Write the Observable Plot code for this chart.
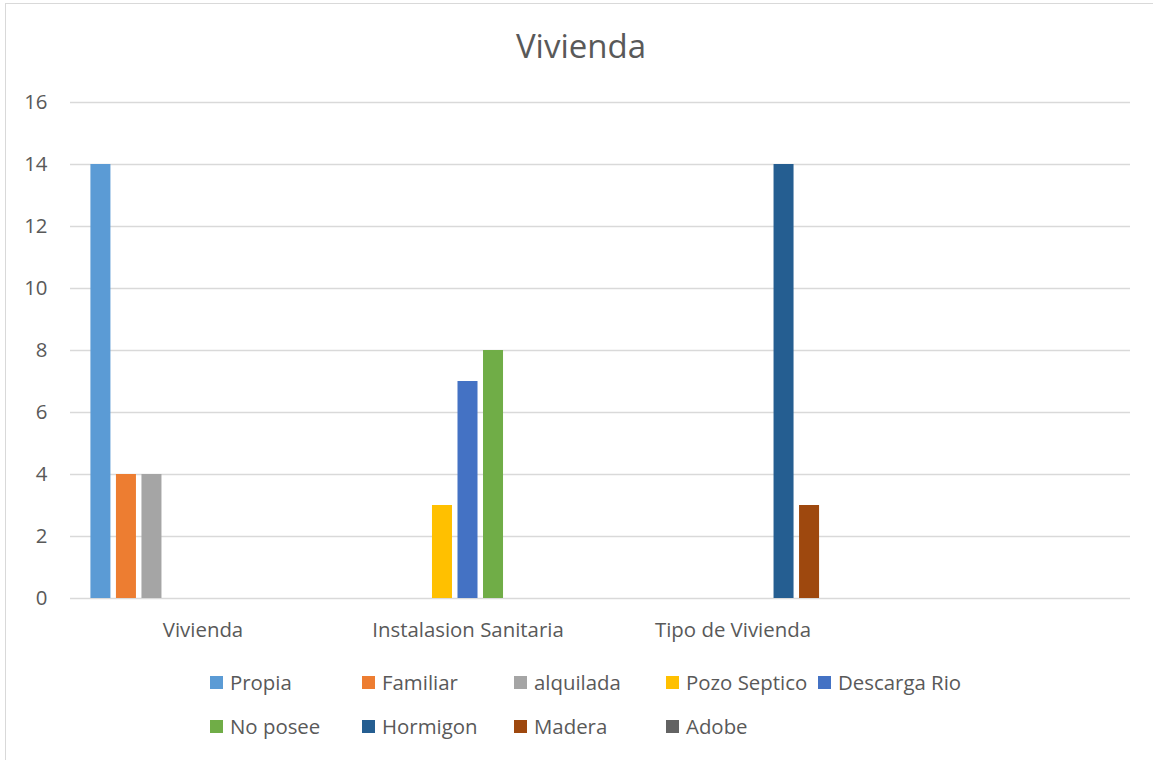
<!DOCTYPE html>
<html>
<head>
<meta charset="utf-8">
<script src="https://cdn.jsdelivr.net/npm/d3@7"></script>
<script src="https://cdn.jsdelivr.net/npm/@observablehq/plot@0.6"></script>
<style>
  html, body { margin: 0; padding: 0; background: #fff; overflow: hidden; }
  body { width: 1153px; height: 760px; position: relative; font-family: "Open Sans", sans-serif; color: #595959; }
  #frame { position: absolute; left: 5px; top: 3px; width: 1200px; height: 800px; z-index: 2;
           border-top: 1px solid #d9d9d9; border-left: 1px solid #d9d9d9; pointer-events: none; }
  #chart { position: relative; width: 1153px; }
  .title { box-sizing: border-box; height: 80px; padding-top: 30px; padding-left: 9px; text-align: center;
           font-size: 33px; line-height: 32px; color: #595959; }
  svg { display: block; }
  .legend { box-sizing: border-box; padding: 10px 0 0 210px; display: grid;
            grid-template-columns: repeat(5, 152px); grid-auto-rows: 44px; }
  .legend .item { display: flex; align-items: center; font-size: 20.4px; color: #595959; white-space: nowrap; }
  .legend .sw { width: 13px; height: 13px; margin-right: 7px; flex: none; }
</style>
</head>
<body>
<div id="frame"></div>
<div id="chart">
  <div class="title">Vivienda</div>
  <div id="plot"></div>
  <div class="legend" id="legend"></div>
</div>
<script>
// Category groups along the horizontal axis (the last slot is left empty)
const categories = ["Vivienda", "Instalasion Sanitaria", "Tipo de Vivienda", ""];

// Series, in legend order, and their fills
const series = ["Propia", "Familiar", "alquilada", "Pozo Septico", "Descarga Rio",
                "No posee", "Hormigon", "Madera", "Adobe"];
const seriesColors = ["#5B9BD5", "#ED7D31", "#A5A5A5", "#FFC000", "#4472C4",
                      "#70AD47", "#255E91", "#9E480E", "#636363"];

// Values per group, one entry per series (null = no bar)
const viviendaValues  = [14, 4, 4, null, null, null, null, null, null];
const sanitariaValues = [null, null, null, 3, 7, 8, null, null, null];
const tipoValues      = [null, null, null, null, null, null, 14, 3, null];

// Y-axis ticks
const yTicks = [0, 2, 4, 6, 8, 10, 12, 14, 16];

const valuesByCategory = [viviendaValues, sanitariaValues, tipoValues];
const bars = valuesByCategory.flatMap((vals, ci) =>
  vals.map((v, si) => ({category: categories[ci], series: series[si], value: v}))
      .filter(d => d.value != null));

// Horizontal grid lines for every group cell, so the empty slot gets them too
const grid = categories.flatMap(c => yTicks.map(t => ({category: c, tick: t})));

const chart = Plot.plot({
  width: 1153,
  height: 570,
  marginTop: 22,
  marginBottom: 52,
  marginLeft: 70,
  marginRight: 23,
  style: {fontFamily: "Open Sans, sans-serif", fontSize: "20.4px", color: "#595959", background: "white"},
  fx: {domain: categories, padding: 0, round: false, label: null},
  x: {domain: series, paddingInner: 0.216, paddingOuter: 0.8, round: false, axis: null},
  y: {domain: [0, 16], label: null},
  color: {domain: series, range: seriesColors},
  marks: [
    Plot.ruleY(grid, {fx: "category", y: "tick", stroke: "#d9d9d9", strokeWidth: 1.3}),
    Plot.barY(bars, {fx: "category", x: "series", y: "value", fill: "series"}),
    Plot.axisY({ticks: yTicks, tickSize: 0, tickPadding: 23, label: null, fontSize: 20.4, fill: "#595959"}),
    Plot.axisFx({anchor: "bottom", tickSize: 0, tickPadding: 24, label: null, fontSize: 20.4, fill: "#595959"})
  ]
});
document.getElementById("plot").appendChild(chart);

// Legend below the plot
const legend = d3.select("#legend");
series.forEach((name, i) => {
  const item = legend.append("div").attr("class", "item");
  item.append("span").attr("class", "sw").style("background", seriesColors[i]);
  item.append("span").text(name);
});
</script>
</body>
</html>
